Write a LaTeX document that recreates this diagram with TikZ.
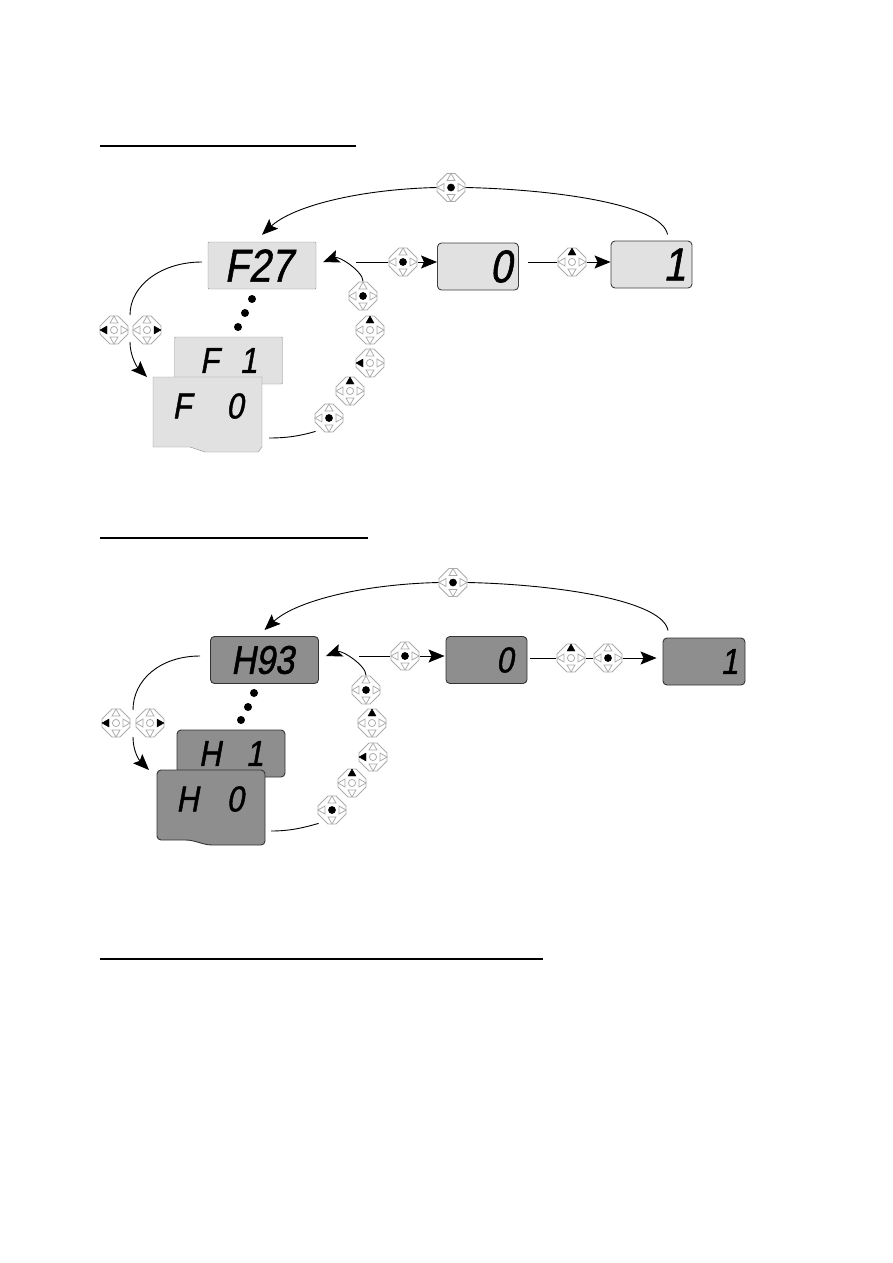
\documentclass[tikz,border=0pt]{standalone}
\usepackage{fontspec}
\usetikzlibrary{arrows.meta,positioning}
\newfontfamily\lcdfont{Liberation Sans}[FakeStretch=0.86,FakeSlant=0.18,FakeBold=1.2]
\definecolor{lcdpale}{HTML}{E1E1E1}
\definecolor{lcddark}{HTML}{8E8E8E}
\definecolor{padgray}{HTML}{ABABAB}
\tikzset{
  lcdbig/.style={font=\lcdfont\fontsize{46}{46}\selectfont},
  lcdsmall/.style={font=\lcdfont\fontsize{36}{36}\selectfont},
  lcdbox/.style={rectangle,minimum width=108pt,minimum height=47pt,inner sep=0pt,lcdsmall},
  lcdright/.style={minimum width=81pt,text width=68pt,align=right,lcdbig},
  palebox/.style={lcdbox,draw=gray!90,fill=lcdpale,rounded corners=1pt},
  palerbox/.style={lcdbox,lcdright,draw=black!75,fill=lcdpale,rounded corners=4pt,line width=.9pt},
  darkbox/.style={lcdbox,draw=black!80,fill=lcddark,rounded corners=4pt,line width=.9pt},
  lcdword/.style={inner sep=0pt,lcdsmall},
  rulerline/.style={line width=2pt},
  link/.style={line width=.9pt},
  bigdot/.style={circle,fill=black,minimum size=8pt,inner sep=0pt},
  padkey/.style={circle,minimum size=29pt,inner sep=0pt},
  padoff/.style={draw=padgray,line width=.8pt},
  padon/.style={draw=black,fill=black,line width=.4pt},
  triup/.style={padoff},tridown/.style={padoff},trileft/.style={padoff},triright/.style={padoff},
  ctrmark/.style={padoff},
  pressup/.style={triup/.style={padon}},
  pressleft/.style={trileft/.style={padon}},
  pressright/.style={triright/.style={padon}},
  pressctr/.style={ctrmark/.style={padon}}
}
\newcommand{\padkey}[3]{%
  \node[padkey] (#1) at (#2) {};
  \begin{scope}[shift={(#1.center)},#3]
    \draw[padoff] (-4,-14) -- (4,-14) -- (14,-4) -- (14,4) -- (4,14) -- (-4,14) -- (-14,4) -- (-14,-4) -- cycle;
    \draw[triup] (0,-14) -- (4,-7) -- (-4,-7) -- cycle;
    \draw[tridown] (0,14) -- (4,7) -- (-4,7) -- cycle;
    \draw[trileft] (-14,0) -- (-7,4) -- (-7,-4) -- cycle;
    \draw[triright] (14,0) -- (7,4) -- (7,-4) -- cycle;
    \draw[ctrmark] (0,0) circle (3.6);
  \end{scope}
}

\begin{document}
\begin{tikzpicture}[x=1pt,y=-1pt,>={Stealth[length=16pt,width=13pt,inset=3pt]}]
  \useasboundingbox (0,0) rectangle (893,1263);

  \draw[rulerline] (100,146) -- (356,146);
  \draw[rulerline] (100,538) -- (368,538);
  \draw[rulerline] (100,959) -- (543,959);

  \node[palebox,lcdbig] (f27) at (262,265.5) {\hspace{-7pt}F27};
  \node[palerbox] (zero) at (478,266.5) {0};
  \node[palerbox] (one) at (651.5,264.5) {1};
  \node[palebox] (f1) at (228.5,360.5) {F\hspace{21pt}1};
  \draw[draw=gray!90,fill=lcdpale] (153,377) -- (262,377) -- (262,447) -- (258,452) -- (205,452) -- (190,447) -- (153,447) -- cycle;
  \node[lcdword] (f0) at (208,406) {F\hspace{35pt}0};
  \coordinate (f0tip) at (147,377);

  \node[bigdot] (d1) at (252,299) {};
  \node[bigdot] (d2) at (245,313) {};
  \node[bigdot] (d3) at (238,327) {};

  \padkey{ftop}{451,187.5}{pressctr}
  \padkey{fnext}{403,262}{pressctr}
  \padkey{fup}{572,262}{pressup}
  \padkey{fleft}{114,330}{pressleft}
  \padkey{fright}{147,330}{pressright}
  \padkey{fa}{363,296}{pressctr}
  \padkey{fb}{370,330}{pressup}
  \padkey{fc}{370,363}{pressleft}
  \padkey{fd}{350,391}{pressup}
  \padkey{fe}{329,418}{pressctr}

  \draw[link] ([shift={(16,-6)}]one.north) .. controls +(-5,-30) and +(90,2) .. (ftop.east);
  \draw[link,->] (ftop.west) .. controls +(-80,2) and +(30,-28) .. ([yshift=7pt]f27.north);
  \draw[link] ([xshift=40pt]f27.east |- fnext.west) -- (fnext.west);
  \draw[link,->] (fnext.east) -- (zero.west |- fnext.east);
  \draw[link] ([xshift=9pt]zero.east |- fup.west) -- (fup.west);
  \draw[link,->] (fup.east) -- (one.west |- fup.east);
  \draw[link,->] (fa.north) .. controls +(0,-10) and +(16,-6) .. ([xshift=7pt]f27.east |- fnext.west);
  \draw[link] ([xshift=-6pt]f27.west |- fnext.west) .. controls +(-40,0) and +(0,-30) .. (130,315);
  \draw[link,->] (130,342) .. controls +(0,14) and +(-10,-10) .. (f0tip);
  \draw[link] (269,438) .. controls +(20,0) and +(-14,4) .. ([shift={(-3,3)}]fe.south west);

  \node[darkbox,font=\lcdfont\fontsize{40}{40}\selectfont] (h93) at (264.5,660) {\hspace{-4pt}H93};
  \node[darkbox,minimum width=81pt,text width=54pt,align=right] (hzero) at (486.5,660) {0};
  \node[darkbox,minimum width=82pt,text width=68pt,align=right] (hone) at (704,661.5) {1};
  \node[darkbox] (h1) at (231,753.5) {H\hspace{25pt}1};
  \draw[draw=black!80,fill=lcddark,line width=.9pt,rounded corners=4pt] (157,770) -- (265,770) -- (265,845) -- (208,845) -- (190,840) -- (157,840) -- cycle;
  \node[lcdword] (h0) at (210,799) {H\hspace{28pt}0};
  \coordinate (h0tip) at (149,770);

  \node[bigdot] (e1) at (254,693) {};
  \node[bigdot] (e2) at (248,707) {};
  \node[bigdot] (e3) at (241,720) {};

  \padkey{htop}{453,582.5}{pressctr}
  \padkey{hnext}{405,656}{pressctr}
  \padkey{hup}{571,658}{pressup}
  \padkey{hset}{608,658}{pressctr}
  \padkey{hleft}{116,723}{pressleft}
  \padkey{hright}{150,723}{pressright}
  \padkey{ha}{366,690}{pressctr}
  \padkey{hb}{372,723}{pressup}
  \padkey{hc}{373,757}{pressleft}
  \padkey{hd}{352,783}{pressup}
  \padkey{he}{332,810}{pressctr}

  \draw[link] ([shift={(-36,-7)}]hone.north) .. controls +(-5,-30) and +(90,2) .. (htop.east);
  \draw[link,->] (htop.west) .. controls +(-80,2) and +(30,-28) .. ([yshift=6pt]h93.north);
  \draw[link] ([xshift=40pt]h93.east |- hnext.west) -- (hnext.west);
  \draw[link,->] (hnext.east) -- ([xshift=-1pt]hzero.west |- hnext.east);
  \draw[link] ([xshift=3pt]hzero.east |- hup.west) -- (hup.west);
  \draw[link] (hup.east) -- (hset.west);
  \draw[link,->] (hset.east) -- ([xshift=-6pt]hone.west |- hset.east);
  \draw[link,->] (ha.north) .. controls +(0,-10) and +(16,-6) .. ([xshift=7pt]h93.east |- hnext.west);
  \draw[link] ([xshift=-10pt]h93.west |- hnext.west) .. controls +(-40,0) and +(0,-30) .. (133,710);
  \draw[link,->] (133,737) .. controls +(0,14) and +(-10,-10) .. (h0tip);
  \draw[link] (271,831) .. controls +(20,0) and +(-14,4) .. ([shift={(-3,3)}]he.south west);
\end{tikzpicture}
\end{document}
